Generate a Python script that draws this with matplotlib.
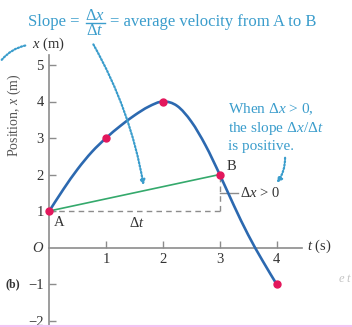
"""Position-time graph with the average-velocity secant from A to B."""

import matplotlib.pyplot as plt
from matplotlib.lines import Line2D
from matplotlib.patches import FancyArrowPatch, PathPatch
from matplotlib.path import Path

plt.rcParams["font.family"] = ["Liberation Serif", "DejaVu Serif"]
plt.rcParams["mathtext.fontset"] = "custom"
plt.rcParams["mathtext.rm"] = "Liberation Serif"
plt.rcParams["mathtext.it"] = "Liberation Serif:italic"

# position curve x(t), read at quarter-second steps
curve_t = [0, 0.25, 0.5, 0.75, 1, 1.25, 1.5, 1.75, 2,
           2.25, 2.5, 2.75, 3, 3.25, 3.5, 3.75, 4]
curve_x = [1.0, 1.6, 2.15, 2.62, 3.0, 3.33, 3.62, 3.86, 4.0,
           3.88, 3.45, 2.8, 2.0, 1.15, 0.35, -0.35, -1.0]

# marked instants (A is the first, B the fourth)
mark_t = [0, 1, 2, 3, 4]
mark_x = [1, 3, 4, 2, -1]
i_a, i_b = 0, 3

y_ticks = [-2, -1, 1, 2, 3, 4, 5]
x_ticks = [1, 2, 3, 4]

W, H = 352, 327
CURVE = "#2c69b0"
DOT = "#e3175c"
GREEN = "#34a96c"
AXIS = "#8c8c8c"
NOTE = "#3b9dcc"
INK = "#333333"


def fp(x, y):
    """Pixel position (from top-left) to figure fraction."""
    return x / W, 1 - y / H


def smooth_path(ts, xs):
    """Catmull-Rom style cubic Bezier path through the given points."""
    pts = list(zip(ts, xs))
    verts = [pts[0]]
    codes = [Path.MOVETO]
    for i in range(len(pts) - 1):
        p0 = pts[max(i - 1, 0)]
        p1, p2 = pts[i], pts[i + 1]
        p3 = pts[min(i + 2, len(pts) - 1)]
        c1 = (p1[0] + (p2[0] - p0[0]) / 6, p1[1] + (p2[1] - p0[1]) / 6)
        c2 = (p2[0] - (p3[0] - p1[0]) / 6, p2[1] - (p3[1] - p1[1]) / 6)
        verts += [c1, c2, p2]
        codes += [Path.CURVE4] * 3
    return Path(verts, codes)


fig = plt.figure(figsize=(W / 100, H / 100), dpi=100)
ax = fig.add_axes([0, 0, 1, 1])
ax.set_xlim(-49.3 / 56.8, (W - 49.3) / 56.8)
ax.set_ylim(-(H - 247.5) / 36.5, 247.5 / 36.5)
ax.patch.set_visible(False)

for side in ("top", "right"):
    ax.spines[side].set_visible(False)
ax.spines["left"].set_position(("data", 0))
ax.spines["bottom"].set_position(("data", 0))
ax.spines["left"].set_bounds(-2.3, 5.27)
ax.spines["bottom"].set_bounds(0, 4.45)
for side in ("left", "bottom"):
    ax.spines[side].set_color(AXIS)
    ax.spines[side].set_linewidth(1.2)

ax.set_yticks(y_ticks)
ax.set_yticklabels([f"\u2212{-v}" if v < 0 else str(v) for v in y_ticks])
ax.set_xticks(x_ticks)
ax.tick_params(axis="y", direction="in", length=5, width=1, color=AXIS,
               labelsize=10.5, labelcolor=INK, pad=4)
ax.tick_params(axis="x", direction="in", length=5, width=1, color=AXIS,
               labelsize=10.5, labelcolor=INK, pad=4)

# dashed legs of the Δt / Δx triangle
ta, xa = mark_t[i_a], mark_x[i_a]
tb, xb = mark_t[i_b], mark_x[i_b]
ax.plot([ta, tb], [xa, xa], color=AXIS, lw=1, ls=(0, (4, 3)))
ax.plot([tb, tb], [xa, xb], color=AXIS, lw=1, ls=(0, (4, 3)))
ax.plot([tb, tb + 0.32], [(xa + xb) / 2] * 2, color=AXIS, lw=1)

# secant and curve
ax.plot([ta, tb], [xa, xb], color=GREEN, lw=1.2, zorder=3)
ax.add_patch(PathPatch(smooth_path(curve_t, curve_x), facecolor="none",
                       edgecolor=CURVE, lw=1.9, zorder=4, capstyle="round"))
ax.plot(mark_t, mark_x, "o", color=DOT, ms=5, zorder=5)

ax.text(ta + 0.08, xa - 0.15, "A", fontsize=10.5, color=INK, va="top")
ax.text(tb + 0.12, xb + 0.12, "B", fontsize=10.5, color=INK)
ax.text((ta + tb) / 2 + 0.05, xa - 0.15, r"$\Delta t$", fontsize=10.5,
        color=INK, ha="center", va="top")
ax.text(tb + 0.36, (xa + xb) / 2, r"$\Delta x$ > 0", fontsize=10.5,
        color=INK, va="center")

# axis labels and captions
fig.text(*fp(38, 248), r"$O$", fontsize=10.5, color=INK,
         ha="center", va="center")
fig.text(*fp(307, 246), r"$t$ (s)", fontsize=10.5, color=INK, va="center")
fig.text(*fp(32, 44), r"$x$ (m)", fontsize=10.5, color=INK, va="center")
fig.text(*fp(14, 115), r"Position, $x$ (m)", fontsize=10, color="#555555",
         rotation=90, ha="center", va="center")
fig.text(*fp(5, 284), "(b)", fontsize=8.5, weight="bold", color=INK,
         va="center")
fig.text(*fp(338, 279), r"$e\ t$", fontsize=9, color="#c4c4c4", va="center")

fig.text(*fp(28, 22), "Slope =", fontsize=12, color=NOTE, va="center")
fig.text(*fp(95, 16), r"$\Delta x$", fontsize=12, color=NOTE,
         ha="center", va="center")
fig.text(*fp(95, 31), r"$\Delta t$", fontsize=12, color=NOTE,
         ha="center", va="center")
fig.add_artist(Line2D([86 / W, 105 / W], [1 - 23.3 / H] * 2,
                      color=NOTE, lw=1, transform=fig.transFigure))
fig.text(*fp(110, 22), "= average velocity from A to B", fontsize=12,
         color=NOTE, va="center")

fig.text(*fp(228, 127), "When $\\Delta x$ > 0,\nthe slope $\\Delta x/\\Delta t$"
         "\nis positive.", fontsize=11, color=NOTE, va="center",
         linespacing=1.25)

# dotted pointers
for start, end, rad, style in [
    ((92, 42), (144, 188), -0.09, "-|>"),
    ((285, 155), (275, 185), -0.2, "-|>"),
    ((0, 62), (28, 45), -0.2, "-"),
]:
    arrow = FancyArrowPatch(fp(*start), fp(*end),
                            connectionstyle=f"arc3,rad={rad}",
                            arrowstyle=style, mutation_scale=7,
                            color=NOTE, lw=1.6, ls=(0, (0.6, 0.9)),
                            transform=fig.transFigure)
    fig.add_artist(arrow)

# thin frame line along the bottom edge
fig.add_artist(Line2D([0, 1], [1 - 325.5 / H] * 2, color="#f2c4f2", lw=1.5,
                      transform=fig.transFigure))

fig.savefig("out.png", dpi=100)
